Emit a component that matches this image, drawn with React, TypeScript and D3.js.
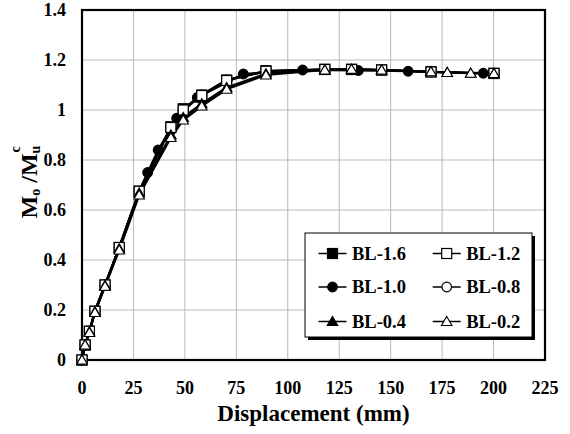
import React from "react";
import * as d3 from "d3";

const xTicks = [0, 25, 50, 75, 100, 125, 150, 175, 200, 225];
const yTicks = [0, 0.2, 0.4, 0.6, 0.8, 1.0, 1.2, 1.4];
const yTickLabels = ["0", "0.2", "0.4", "0.6", "0.8", "1", "1.2", "1.4"];

const bl16: [number, number][] = [[0,0],[1.5,0.06],[3.6,0.115],[6.3,0.195],[11.2,0.3],[18.1,0.45],[27.8,0.675],[43.2,0.933],[49.2,1.005],[58.2,1.06],[70.3,1.12],[89.4,1.157],[118,1.163],[131,1.163],[145.6,1.16],[169.6,1.153],[200.2,1.147]];
const bl12: [number, number][] = [[0,0],[1.5,0.06],[3.6,0.115],[6.3,0.195],[11.2,0.3],[18.1,0.45],[27.8,0.675],[43.2,0.93],[49.2,1.0],[58.2,1.058],[70.3,1.118],[89.4,1.155],[118,1.162],[131,1.162],[145.6,1.16],[169.6,1.152],[200.2,1.146]];
const bl10: [number, number][] = [[0,0],[1.5,0.06],[3.6,0.115],[6.3,0.195],[11.2,0.3],[18.1,0.45],[27.8,0.675],[31.9,0.75],[37,0.84],[46,0.967],[56,1.05],[78.4,1.144],[107.2,1.16],[134.3,1.158],[158.5,1.155],[195,1.147]];
const bl08: [number, number][] = [[0,0],[1.5,0.06],[3.6,0.115],[6.3,0.195],[11.2,0.3],[18.1,0.45],[27.8,0.675],[43.2,0.93],[49.2,1.0],[58.2,1.06],[70.3,1.12],[89.4,1.155],[118,1.162],[131,1.162],[145.6,1.16],[169.6,1.152],[200.2,1.146]];
const bl04: [number, number][] = [[0,0],[1.5,0.06],[3.6,0.113],[6.3,0.193],[11.2,0.298],[18.1,0.445],[27.8,0.668],[43.2,0.9],[49.2,0.97],[58.2,1.025],[70.3,1.09],[89.4,1.145],[118,1.16],[131,1.162],[145.6,1.16],[169.6,1.153],[177.5,1.15],[188.9,1.147],[200.2,1.146]];
const bl02: [number, number][] = [[0,0],[1.5,0.06],[3.6,0.11],[6.3,0.19],[11.2,0.295],[18.1,0.44],[27.8,0.66],[43.2,0.89],[49.2,0.96],[58.2,1.016],[70.3,1.083],[89.4,1.14],[118,1.16],[131,1.163],[145.6,1.16],[169.6,1.153],[177.5,1.15],[188.9,1.147],[200.2,1.146]];

type Marker = "square" | "circle" | "triangle";
const seriesNames = ["BL-1.6", "BL-1.2", "BL-1.0", "BL-0.8", "BL-0.4", "BL-0.2"];
const seriesData = [bl16, bl12, bl10, bl08, bl04, bl02];
const seriesMarker: Marker[] = ["square", "square", "circle", "circle", "triangle", "triangle"];
const seriesFilled = [true, false, true, false, true, false];
const drawOrder = [3, 2, 0, 1, 4, 5];

const W = 570, H = 434;
const x = d3.scaleLinear().domain([0, 225]).range([82, 545]);
const y = d3.scaleLinear().domain([0, 1.4]).range([360, 10]);
const FONT = "Liberation Serif, DejaVu Serif, serif";

function MarkerShape({ kind, filled, cx, cy }: { kind: Marker; filled: boolean; cx: number; cy: number }) {
  const fill = filled ? "#000" : "#fff";
  if (kind === "square") {
    return <rect x={cx - 5} y={cy - 5} width={10} height={10} fill={fill} stroke="#000" strokeWidth={1.2} />;
  }
  if (kind === "circle") {
    return <circle cx={cx} cy={cy} r={4.8} fill={fill} stroke="#000" strokeWidth={1.2} />;
  }
  const p = d3.symbol().type(d3.symbolTriangle).size(48)();
  return <path d={p || ""} transform={`translate(${cx},${cy + 1})`} fill={fill} stroke="#000" strokeWidth={1.1} />;
}

export default function App() {
  const line = d3.line<[number, number]>().x(d => x(d[0])).y(d => y(d[1]));
  const legendRows = [[0, 1], [2, 3], [4, 5]];
  const legendRowY = [253.5, 287, 321.5];
  const legendColX = [332.5, 446.7];
  const ts = { fontFamily: FONT, fontWeight: 700 } as React.CSSProperties;
  return (
    <svg width={W} height={H} style={{ position: "absolute", left: 0, top: 0, background: "#fff", fontFamily: FONT }}>
      <rect width={W} height={H} fill="#fff" />
      {xTicks.slice(1, -1).map(t => (
        <line key={"gx" + t} x1={x(t)} x2={x(t)} y1={y(0)} y2={y(1.4)} stroke="#b8b8b8" strokeWidth={1} />
      ))}
      {yTicks.slice(1, -1).map(t => (
        <line key={"gy" + t} x1={x(0)} x2={x(225)} y1={y(t)} y2={y(t)} stroke="#b8b8b8" strokeWidth={1} />
      ))}
      <rect x={x(0)} y={y(1.4)} width={x(225) - x(0)} height={y(0) - y(1.4)} fill="none" stroke="#000" strokeWidth={2.2} />
      {drawOrder.map(i => (
        <path key={"l" + i} d={line(seriesData[i]) || ""} fill="none" stroke="#000" strokeWidth={2.2} strokeLinejoin="round" />
      ))}
      {drawOrder.map(i => (
        <g key={"m" + i}>
          {seriesData[i].map((d, j) => (
            <MarkerShape key={j} kind={seriesMarker[i]} filled={seriesFilled[i]} cx={x(d[0])} cy={y(d[1])} />
          ))}
        </g>
      ))}
      {yTicks.map((t, i) => (
        <text key={"ty" + t} x={66} y={y(t)} dy="0.35em" textAnchor="end" fontSize={18} style={ts}>{yTickLabels[i]}</text>
      ))}
      {xTicks.map(t => (
        <text key={"tx" + t} x={x(t)} y={394} textAnchor="middle" fontSize={18} style={ts}>{t}</text>
      ))}
      <text x={(x(0) + x(225)) / 2} y={421} textAnchor="middle" fontSize={23} style={ts}>Displacement (mm)</text>
      <text transform="translate(37,182) rotate(-90)" textAnchor="middle" fontSize={24} style={ts}>
        <tspan>M</tspan>
        <tspan fontSize={14} dy={3}>o</tspan>
        <tspan dy={-3}> /M</tspan>
        <tspan fontSize={14} dy={3}>u</tspan>
        <tspan fontSize={14} dx={-7} dy={-20}>c</tspan>
      </text>
      <rect x={308} y={236} width={227} height={104} fill="#000" />
      <rect x={305} y={233} width={227} height={104} fill="#fff" stroke="#000" strokeWidth={1} />
      {legendRows.map((row, r) => row.map((si, c) => (
        <g key={"lg" + si}>
          <line x1={legendColX[c] - 14} x2={legendColX[c] + 14} y1={legendRowY[r]} y2={legendRowY[r]} stroke="#000" strokeWidth={1.5} />
          <MarkerShape kind={seriesMarker[si]} filled={seriesFilled[si]} cx={legendColX[c]} cy={legendRowY[r]} />
          <text x={legendColX[c] + 19.5} y={legendRowY[r]} dy="0.35em" fontSize={18.5} style={ts}>{seriesNames[si]}</text>
        </g>
      )))}
    </svg>
  );
}
